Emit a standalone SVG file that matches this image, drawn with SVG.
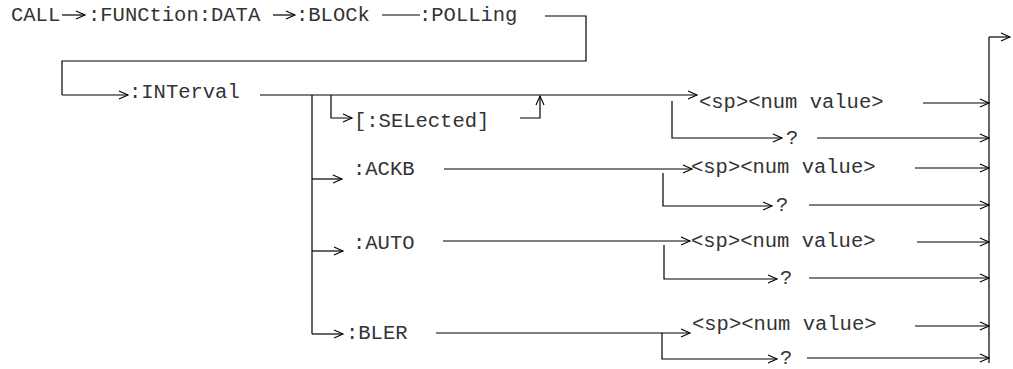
<svg xmlns="http://www.w3.org/2000/svg" width="1013" height="369" viewBox="0 0 1013 369">
<style>
text{font-family:"Liberation Mono","Courier New",monospace;font-size:20.5px;fill:#333}
.c{fill:none;stroke:#000;stroke-width:1.2}
.a{marker-end:url(#ah)}
</style>
<defs>
<marker id="ah" markerWidth="12" markerHeight="12" refX="10" refY="6" orient="auto" markerUnits="userSpaceOnUse">
<path d="M1,2 L10,6 L1,10" fill="none" stroke="#000" stroke-width="1.1"/>
</marker>
</defs>
<rect width="1013" height="369" fill="#fff"/>
<g id="connectors">
<path class="c a" d="M62,15 H85"/>
<path class="c a" d="M273,15 H295"/>
<path class="c" d="M382,15 H420"/>
<path class="c" d="M545,16 H586 V61 H62 V95"/>
<path class="c a" d="M62,95 H128"/>
<path class="c a" d="M260,95 H697"/>
<path class="c" d="M312,95 V334"/>
<path class="c a" d="M331,95 V118 H352"/>
<path class="c a" d="M520,118 H540 V96"/>
<path class="c a" d="M672,101 V138 H782"/>
<path class="c a" d="M923,103 H989"/>
<path class="c a" d="M817,138 H989"/>
<path class="c a" d="M312,179 H342"/>
<path class="c a" d="M444,169 H692"/>
<path class="c a" d="M663,173 V206 H772"/>
<path class="c a" d="M915,168 H989"/>
<path class="c a" d="M809,205 H989"/>
<path class="c a" d="M312,251 H343"/>
<path class="c a" d="M443,241 H690"/>
<path class="c a" d="M664,245 V279 H777"/>
<path class="c a" d="M917,242 H989"/>
<path class="c a" d="M809,278 H989"/>
<path class="c a" d="M312,334 H343"/>
<path class="c a" d="M436,333 H690"/>
<path class="c a" d="M662,333 V359 H777"/>
<path class="c a" d="M915,326 H989"/>
<path class="c a" d="M807,358 H989"/>
<path class="c" d="M989,363 V37"/>
<path class="c a" d="M989,37 H1010"/>
</g>
<g id="call"><text x="11" y="21">CALL</text></g>
<g id="function-data"><text x="88" y="21">:FUNCtion:DATA</text></g>
<g id="block"><text x="296" y="21">:BLOCk</text></g>
<g id="polling"><text x="419" y="21">:POLLing</text></g>
<g id="interval"><text x="129" y="98">:INTerval</text></g>
<g id="selected"><text x="354" y="127">[:SELected]</text></g>
<g id="sel-num"><text x="699" y="108">&lt;sp&gt;&lt;num value&gt;</text></g>
<g id="sel-query"><text x="786" y="144">?</text></g>
<g id="ackb"><text x="353" y="175">:ACKB</text></g>
<g id="ackb-num"><text x="691" y="173">&lt;sp&gt;&lt;num value&gt;</text></g>
<g id="ackb-query"><text x="776" y="211">?</text></g>
<g id="auto"><text x="353" y="249">:AUTO</text></g>
<g id="auto-num"><text x="691" y="247">&lt;sp&gt;&lt;num value&gt;</text></g>
<g id="auto-query"><text x="780" y="284">?</text></g>
<g id="bler"><text x="346" y="339">:BLER</text></g>
<g id="bler-num"><text x="692" y="330">&lt;sp&gt;&lt;num value&gt;</text></g>
<g id="bler-query"><text x="780" y="364">?</text></g>
</svg>
